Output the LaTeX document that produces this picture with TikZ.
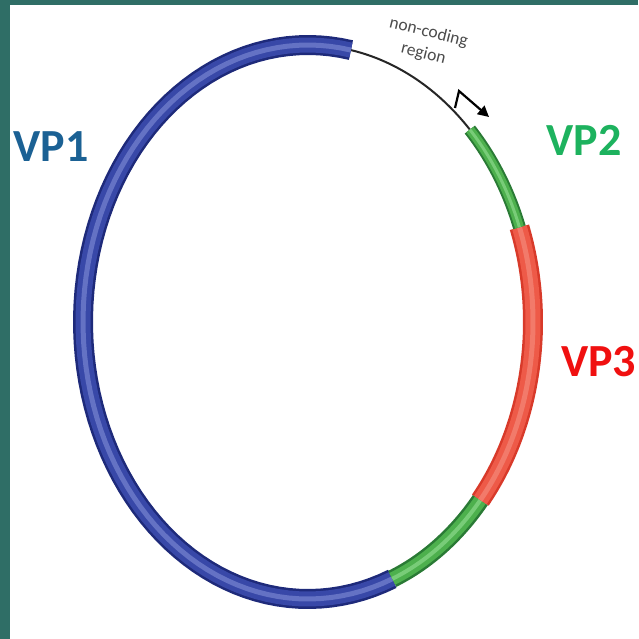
\documentclass[tikz,border=0pt]{standalone}
\usepackage{fontspec}
\setmainfont{Carlito}
\usetikzlibrary{arrows.meta}
\definecolor{teal}{HTML}{2F6E66}
\definecolor{bdark}{HTML}{1E2A7A}
\definecolor{bmid}{HTML}{3848A8}
\definecolor{blight}{HTML}{6472C4}
\definecolor{gdark}{HTML}{2A7A35}
\definecolor{gmid}{HTML}{4DB04D}
\definecolor{glight}{HTML}{78CC78}
\definecolor{rdark}{HTML}{D83A2A}
\definecolor{rmid}{HTML}{EE5A48}
\definecolor{rlight}{HTML}{F27A6A}
\definecolor{vponecol}{HTML}{1B6194}
\definecolor{vptwocol}{HTML}{1DB25E}
\definecolor{vpthreecol}{HTML}{F01010}
\newcommand\tubearc[8]{%
  \draw[line width=#6, draw=#3, line cap=butt] plot[domain=#1:#2,samples=80,variable=\t]({308+225*cos(\t)},{322-277*sin(\t)});
  \draw[line width=#7, draw=#4, line cap=butt] plot[domain=#1:#2,samples=80,variable=\t]({308+225*cos(\t)},{322-277*sin(\t)});
  \draw[line width=#8, draw=#5, line cap=butt] plot[domain=#1:#2,samples=80,variable=\t]({308+225*cos(\t)},{322-277*sin(\t)});
}
\begin{document}
\begin{tikzpicture}[x=1pt,y=-1pt,
  lbl/.style={font=\fontsize{46}{46}\selectfont\bfseries, inner sep=0pt},
  nc/.style={font=\fontsize{17.5}{22}\selectfont, text=black!70, inner sep=0pt, align=center},
  thinline/.style={line width=2pt, draw=black!85},
  promoter/.style={line width=2.2pt, draw=black, -{Triangle[length=11pt,width=11pt]}}]
\useasboundingbox (0,0) rectangle (638,639);
\fill[white] (0,0) rectangle (638,639);
\fill[teal] (0,0) rectangle (10,639);
\fill[teal] (0,0) rectangle (638,5);
% non-coding thin line
\draw[thinline] plot[domain=44:80,samples=40,variable=\t]({308+225*cos(\t)},{322-277*sin(\t)});
% bands
\tubearc{79}{292}{bdark}{bmid}{blight}{20pt}{15pt}{5pt}
\tubearc{-68}{-40}{gdark}{gmid}{glight}{18pt}{13pt}{4pt}
\tubearc{-40}{20}{rdark}{rmid}{rlight}{20pt}{15pt}{5pt}
\tubearc{20}{44}{gdark}{gmid}{glight}{13pt}{9pt}{3pt}
% promoter arrow
\coordinate (pb) at (455,108);
\coordinate (pc) at (459,91);
\coordinate (pt) at (489,117);
\draw[promoter] (pb) -- (pc) -- (pt);
% labels
\node[nc, rotate=-14] (nc) at (426,43) {non-coding\\region};
\node[lbl, text=vponecol] (vp1) at (51,147) {VP1};
\node[lbl, text=vptwocol] (vp2) at (584,140) {VP2};
\node[lbl, text=vpthreecol, anchor=west] (vp3) at (561,362) {VP3};
\end{tikzpicture}
\end{document}
